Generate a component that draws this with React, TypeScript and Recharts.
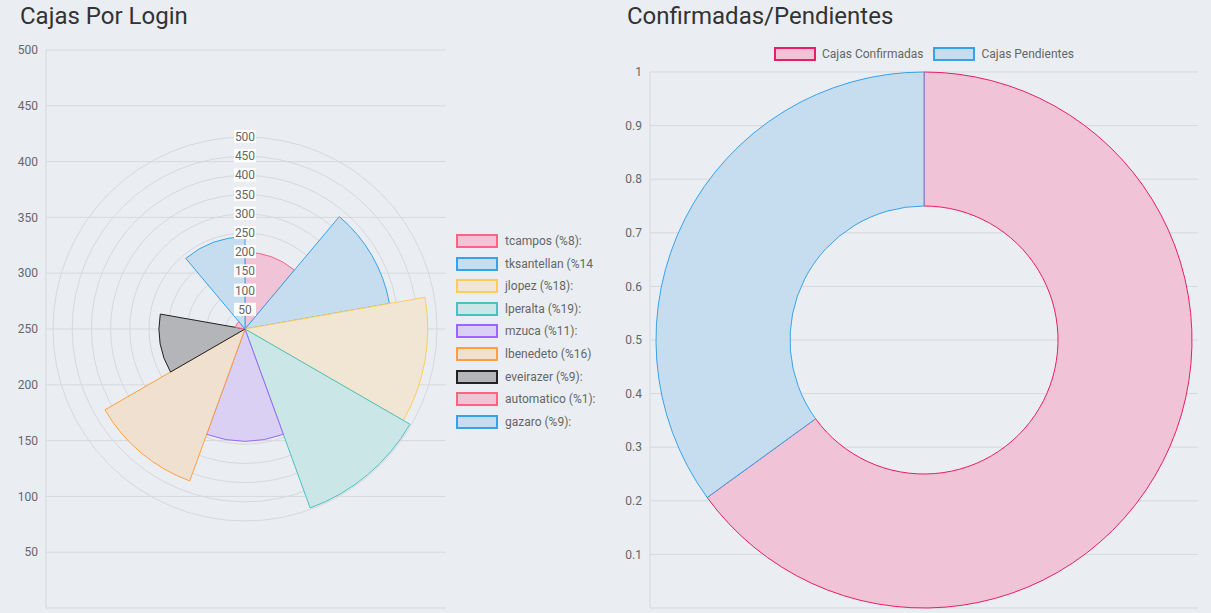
import { LineChart, Line, YAxis, XAxis, CartesianGrid, RadarChart, Radar, PolarGrid, PolarRadiusAxis, PolarAngleAxis, PieChart, Pie, Cell, Sector } from 'recharts';

const LOGINS = ['tcampos', 'tksantellan', 'jlopez', 'lperalta', 'mzuca', 'lbenedeto', 'eveirazer', 'automatico', 'gazaro'];
const CAJAS = [200, 382, 476, 496, 292, 421, 224, 25, 240];
const LEGEND_LABELS = ['tcampos (%8):', 'tksantellan (%14', 'jlopez (%18):', 'lperalta (%19):', 'mzuca (%11):', 'lbenedeto (%16)', 'eveirazer (%9):', 'automatico (%1):', 'gazaro (%9):'];
const STROKES = ['#ff6384', '#36a2eb', '#ffcd56', '#4bc0c0', '#9966ff', '#ff9f40', '#222222', '#ff6384', '#36a2eb'];
const FILLS = ['#f0c3d6', '#c6ddef', '#f1e6d3', '#cbe6e6', '#d9d0f3', '#f0e0d0', '#b3b5b8', '#f0c3d6', '#c6ddef'];
const LEFT_TICKS = [0, 50, 100, 150, 200, 250, 300, 350, 400, 450, 500];
const RADIAL_TICKS = [50, 100, 150, 200, 250, 300, 350, 400, 450, 500];
const RIGHT_TICKS = [0, 0.1, 0.2, 0.3, 0.4, 0.5, 0.6, 0.7, 0.8, 0.9, 1];
const ESTADOS = ['Cajas Confirmadas', 'Cajas Pendientes'];
const ESTADO_VALUES = [0.65, 0.35];
const ESTADO_STROKES = ['#e91e63', '#36a2eb'];
const ESTADO_FILLS = ['#f0c3d6', '#c6ddef'];

const FONT = 'Roboto, "Open Sans", sans-serif';
const CX = 245;
const CY = 329;
const MAX_R = 192;

const polarData = LOGINS.map((name, i) => ({ name, value: CAJAS[i], slot: 1 }));
const estadoData = ESTADOS.map((name, i) => ({ name, value: ESTADO_VALUES[i] }));
const axisDummy = [{ x: 0 }, { x: 1 }];

function PolarShape(props: any) {
  const r = (MAX_R * props.payload.value) / 500;
  return (
    <Sector
      cx={props.cx}
      cy={props.cy}
      innerRadius={0}
      outerRadius={r}
      startAngle={props.startAngle}
      endAngle={props.endAngle}
      fill={props.fill}
      stroke={props.stroke}
      strokeWidth={1}
    />
  );
}

function RadialTick(props: any) {
  const { x, y, payload } = props;
  return (
    <g>
      <rect x={x - 11} y={y - 7} width={22} height={13} fill="#fff" />
      <text x={x} y={y + 4} textAnchor="middle" fontSize={12} fill="#666" fontFamily={FONT}>
        {payload.value}
      </text>
    </g>
  );
}

export default function App() {
  const abs = (l: number, t: number) => ({ position: 'absolute' as const, left: l, top: t });
  const M0 = { top: 0, right: 0, bottom: 0, left: 0 };
  return (
    <div style={{ position: 'fixed', left: 0, top: 0, width: 1211, height: 613, background: '#eaeef2', fontFamily: FONT, overflow: 'hidden' }}>
      <div style={{ ...abs(20, 2), fontSize: 24, color: '#333' }}>Cajas Por Login</div>
      <div style={{ ...abs(627, 2), fontSize: 24, color: '#333' }}>Confirmadas/Pendientes</div>

      <div style={abs(0, 0)}>
        <LineChart width={446} height={613} data={axisDummy} margin={{ top: 50, right: 0, bottom: 5, left: 0 }}>
          <CartesianGrid vertical={false} stroke="#d5d8dc" />
          <XAxis dataKey="x" hide />
          <YAxis width={46} domain={[0, 500]} ticks={LEFT_TICKS} tick={{ fontSize: 12, fill: '#666' }} tickLine={false} axisLine={{ stroke: '#d5d8dc' }} />
          <Line dataKey="x" stroke="none" dot={false} isAnimationActive={false} />
        </LineChart>
      </div>

      <div style={abs(CX - 250, CY - 250)}>
        <RadarChart width={500} height={500} cx={250} cy={250} outerRadius={MAX_R} data={polarData} margin={M0}>
          <PolarGrid gridType="circle" radialLines={false} stroke="#d5d8dc" />
          <PolarAngleAxis dataKey="name" tick={false} axisLine={false} />
          <PolarRadiusAxis angle={90} domain={[0, 500]} ticks={RADIAL_TICKS} tickCount={11} tick={<RadialTick />} axisLine={false} tickLine={false} />
          <Radar dataKey="value" stroke="none" fill="none" isAnimationActive={false} />
        </RadarChart>
      </div>

      <div style={abs(CX - 250, CY - 250)}>
        <PieChart width={500} height={500} margin={M0}>
          <Pie data={polarData} dataKey="slot" cx={250} cy={250} startAngle={90} endAngle={-270} outerRadius={MAX_R} shape={<PolarShape />} isAnimationActive={false}>
            {polarData.map((_, i) => (
              <Cell key={i} fill={FILLS[i]} stroke={STROKES[i]} />
            ))}
          </Pie>
        </PieChart>
      </div>

      <div style={abs(CX - 250, CY - 250)}>
        <RadarChart width={500} height={500} cx={250} cy={250} outerRadius={MAX_R} data={polarData} margin={M0}>
          <PolarAngleAxis dataKey="name" tick={false} axisLine={false} />
          <PolarRadiusAxis angle={90} domain={[0, 500]} ticks={RADIAL_TICKS} tickCount={11} tick={<RadialTick />} axisLine={false} tickLine={false} />
          <Radar dataKey="value" stroke="none" fill="none" isAnimationActive={false} />
        </RadarChart>
      </div>

      {LEGEND_LABELS.map((label, i) => (
        <div key={label} style={{ ...abs(456, 234 + i * 22.6), display: 'flex', alignItems: 'center', whiteSpace: 'nowrap', width: 145, overflow: 'hidden' }}>
          <span style={{ display: 'inline-block', width: 38, height: 10, background: FILLS[i], border: `2px solid ${STROKES[i]}`, marginRight: 7 }} />
          <span style={{ fontSize: 12, color: '#666' }}>{label}</span>
        </div>
      ))}

      <div style={abs(600, 0)}>
        <LineChart width={598} height={613} data={axisDummy} margin={{ top: 72, right: 0, bottom: 5, left: 0 }}>
          <CartesianGrid vertical={false} stroke="#d5d8dc" />
          <XAxis dataKey="x" hide />
          <YAxis width={50} domain={[0, 1]} ticks={RIGHT_TICKS} tick={{ fontSize: 12, fill: '#666' }} tickLine={false} axisLine={{ stroke: '#d5d8dc' }} />
          <Line dataKey="x" stroke="none" dot={false} isAnimationActive={false} />
        </LineChart>
      </div>

      <div style={{ ...abs(624, 47), width: 600, display: 'flex', justifyContent: 'center', gap: 10, fontSize: 12, color: '#666' }}>
        {ESTADOS.map((e, i) => (
          <span key={e} style={{ display: 'flex', alignItems: 'center' }}>
            <span style={{ display: 'inline-block', width: 38, height: 10, background: ESTADO_FILLS[i], border: `2px solid ${ESTADO_STROKES[i]}`, marginRight: 6 }} />
            {e}
          </span>
        ))}
      </div>

      <div style={abs(924 - 300, 0)}>
        <PieChart width={600} height={613} margin={M0}>
          <Pie data={estadoData} dataKey="value" cx={300} cy={340} innerRadius={134} outerRadius={268} startAngle={90} endAngle={-270} isAnimationActive={false}>
            {estadoData.map((_, i) => (
              <Cell key={i} fill={ESTADO_FILLS[i]} stroke={ESTADO_STROKES[i]} />
            ))}
          </Pie>
        </PieChart>
      </div>
    </div>
  );
}
